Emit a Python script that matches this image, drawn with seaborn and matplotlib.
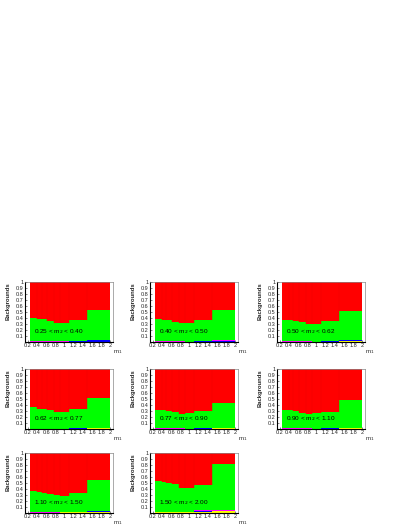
import numpy as np
import pandas as pd
import matplotlib
matplotlib.use("Agg")
import matplotlib.pyplot as plt
import seaborn as sns

sns.set_style("ticks")
plt.rcParams['font.family'] = ['Liberation Sans', 'DejaVu Sans']

# m1 bin edges (same binning as the m2 slices)
m1_edges = [0.25, 0.40, 0.50, 0.62, 0.77, 0.90, 1.10, 1.50, 2.00]
m2_labels = ["0.25 < m$_2$ < 0.40", "0.40 < m$_2$ < 0.50", "0.50 < m$_2$ < 0.62",
             "0.62 < m$_2$ < 0.77", "0.77 < m$_2$ < 0.90", "0.90 < m$_2$ < 1.10",
             "1.10 < m$_2$ < 1.50", "1.50 < m$_2$ < 2.00"]

# background fractions per m2 slice (per m1 bin)
yellow = [
    [0.003, 0.003, 0.003, 0.003, 0.003, 0.003, 0.005, 0.008],
    [0.003, 0.003, 0.003, 0.003, 0.003, 0.003, 0.005, 0.008],
    [0.004, 0.004, 0.004, 0.004, 0.004, 0.004, 0.006, 0.010],
    [0.004, 0.004, 0.004, 0.004, 0.004, 0.004, 0.006, 0.010],
    [0.005, 0.005, 0.005, 0.005, 0.005, 0.005, 0.008, 0.012],
    [0.005, 0.005, 0.005, 0.005, 0.005, 0.005, 0.008, 0.012],
    [0.008, 0.008, 0.008, 0.008, 0.008, 0.010, 0.012, 0.020],
    [0.010, 0.010, 0.010, 0.010, 0.010, 0.012, 0.020, 0.030],
]
blue = [
    [0.0, 0.0, 0.0, 0.0, 0.0, 0.0, 0.004, 0.020],
    [0.0, 0.0, 0.0, 0.0, 0.0, 0.0, 0.004, 0.015],
    [0.0, 0.0, 0.0, 0.0, 0.0, 0.0, 0.005, 0.020],
    [0.0, 0.0, 0.0, 0.0, 0.0, 0.0, 0.004, 0.012],
    [0.0, 0.0, 0.0, 0.0, 0.0, 0.0, 0.003, 0.008],
    [0.0, 0.0, 0.0, 0.0, 0.0, 0.0, 0.003, 0.008],
    [0.0, 0.0, 0.0, 0.0, 0.0, 0.0, 0.010, 0.015],
    [0.0, 0.0, 0.0, 0.0, 0.0, 0.0, 0.020, 0.010],
]
magenta = [
    [0.008, 0.008, 0.008, 0.008, 0.008, 0.006, 0.004, 0.003],
    [0.006, 0.006, 0.006, 0.006, 0.006, 0.005, 0.004, 0.003],
    [0.005, 0.005, 0.005, 0.005, 0.005, 0.004, 0.003, 0.003],
    [0.004, 0.004, 0.004, 0.004, 0.004, 0.004, 0.003, 0.002],
    [0.004, 0.004, 0.004, 0.004, 0.004, 0.003, 0.003, 0.002],
    [0.004, 0.004, 0.004, 0.004, 0.004, 0.003, 0.003, 0.002],
    [0.003, 0.003, 0.003, 0.003, 0.003, 0.003, 0.003, 0.002],
    [0.003, 0.003, 0.003, 0.003, 0.003, 0.003, 0.003, 0.002],
]
# cumulative top of green (fraction below red)
green_top = [
    [0.40, 0.38, 0.38, 0.35, 0.32, 0.32, 0.37, 0.54],
    [0.38, 0.37, 0.36, 0.34, 0.31, 0.31, 0.36, 0.54],
    [0.37, 0.36, 0.35, 0.33, 0.30, 0.30, 0.35, 0.52],
    [0.36, 0.34, 0.33, 0.31, 0.28, 0.29, 0.33, 0.52],
    [0.32, 0.31, 0.30, 0.28, 0.25, 0.26, 0.30, 0.44],
    [0.32, 0.31, 0.30, 0.27, 0.25, 0.26, 0.29, 0.48],
    [0.37, 0.35, 0.34, 0.32, 0.30, 0.29, 0.34, 0.55],
    [0.54, 0.52, 0.50, 0.48, 0.42, 0.41, 0.47, 0.82],
]

x_ticks = [0.2, 0.4, 0.6, 0.8, 1.0, 1.2, 1.4, 1.6, 1.8, 2.0]
x_ticklabels = ["0.2", "0.4", "0.6", "0.8", "1", "1.2", "1.4", "1.6", "1.8", "2"]
y_ticks = [0.1, 0.2, 0.3, 0.4, 0.5, 0.6, 0.7, 0.8, 0.9, 1.0]
y_ticklabels = ["0.1", "0.2", "0.3", "0.4", "0.5", "0.6", "0.7", "0.8", "0.9", "1"]

comp_order = ["red", "green", "magenta", "blue", "yellow"]
palette = {"red": "#ff0000", "green": "#00ff00", "magenta": "#ff00ff",
           "blue": "#0000ff", "yellow": "#ffff00"}

W, H = 410, 530
fig = plt.figure(figsize=(W / 100, H / 100), dpi=100)

col_left = [25, 150, 277]
row_top = [282, 369, 453]
ax_w, ax_h = 88, 60

centers = [(a + b) / 2 for a, b in zip(m1_edges[:-1], m1_edges[1:])]

for k in range(8):
    r, c = divmod(k, 3)
    x0, y0 = col_left[c], row_top[r]
    ax = fig.add_axes([x0 / W, 1 - (y0 + ax_h) / H, ax_w / W, ax_h / H])
    yl, bl, mg, gt = yellow[k], blue[k], magenta[k], green_top[k]
    green = [g - (a + b + m) for g, a, b, m in zip(gt, yl, bl, mg)]
    red = [1 - g for g in gt]
    rows = []
    for i, xc in enumerate(centers):
        rows += [("red", xc, red[i]), ("green", xc, green[i]),
                 ("magenta", xc, mg[i]), ("blue", xc, bl[i]), ("yellow", xc, yl[i])]
    df = pd.DataFrame(rows, columns=["comp", "m1", "w"])
    sns.histplot(data=df, x="m1", weights="w", hue="comp", hue_order=comp_order,
                 bins=m1_edges, multiple="stack", palette=palette, alpha=1,
                 element="bars", linewidth=0, legend=False, ax=ax)
    # faint darker lines at bin boundaries inside red region
    for i in range(1, len(m1_edges) - 1):
        lo = min(gt[i - 1], gt[i])
        ax.plot([m1_edges[i], m1_edges[i]], [lo, 1.0], color="#ec0000", lw=0.3)
    ax.set_xlim(0.14, 2.06)
    ax.set_ylim(0, 1.0)
    ax.set_xticks(x_ticks)
    ax.set_xticklabels(x_ticklabels)
    ax.set_yticks(y_ticks)
    ax.set_yticklabels(y_ticklabels)
    ax.tick_params(axis="both", labelsize=4, length=1.5, width=0.4, pad=1,
                   direction="in")
    for s in ["left", "bottom"]:
        ax.spines[s].set_linewidth(0.8)
        ax.spines[s].set_color("black")
    for s in ["top", "right"]:
        ax.spines[s].set_visible(True)
        ax.spines[s].set_linewidth(0.5)
        ax.spines[s].set_color("#888888")
    ax.set_xlabel("")
    ax.set_ylabel("")
    ax.text(0.33, 0.15, m2_labels[k], fontsize=4.6, color="black")
    ax.text(1.0 + 5 / ax_w, -0.10, "m$_1$", transform=ax.transAxes,
            fontsize=4.4, ha="center", va="top")
    ax.text(-17 / ax_w, 1.0, "Backgrounds", transform=ax.transAxes,
            fontsize=4.2, rotation=90, ha="center", va="top", fontweight="bold")

fig.savefig("out.png", dpi=100)
